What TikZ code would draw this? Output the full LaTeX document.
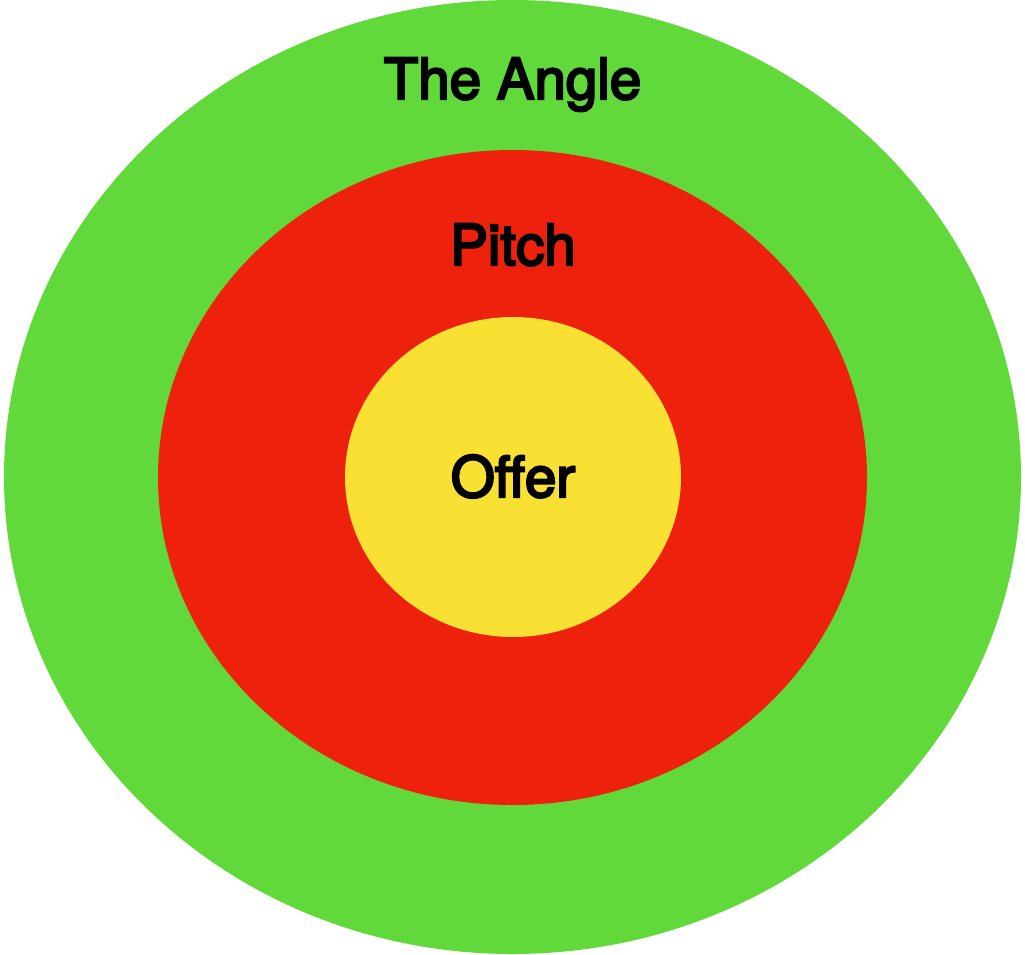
\documentclass[tikz,border=0pt]{standalone}
\usepackage{fontspec}
\setmainfont{TeX Gyre Heros}
\newfontfamily\medfont{TeX Gyre Heros}[FakeBold=4]
\usetikzlibrary{shapes.geometric}
\definecolor{ringgreen}{HTML}{62D93A}
\definecolor{ringred}{HTML}{EE220C}
\definecolor{ringyellow}{HTML}{F8E133}
\tikzset{
  ring/.style={ellipse, draw=none, inner sep=0pt, outer sep=0pt},
  lbl/.style={anchor=base, font=\medfont\fontsize{56.5}{60}\selectfont, text=black, inner sep=0pt}
}
\begin{document}
\begin{tikzpicture}[x=1pt,y=-1pt]
\useasboundingbox (0,0) rectangle (1025,955);
\node[ring, fill=ringgreen, minimum width=1017pt, minimum height=954pt] (angle) at (512.5,477) {};
\node[ring, fill=ringred, minimum width=709pt, minimum height=655pt] (pitch) at (512.5,477.5) {};
\node[ring, fill=ringyellow, minimum width=336pt, minimum height=320pt] (offer) at (513,477) {};
\node[lbl] (tangle) at (512.5,99) {The Angle};
\node[lbl] (tpitch) at (513,265) {Pitch};
\node[lbl] (toffer) at (513,497) {Offer};
\end{tikzpicture}
\end{document}
